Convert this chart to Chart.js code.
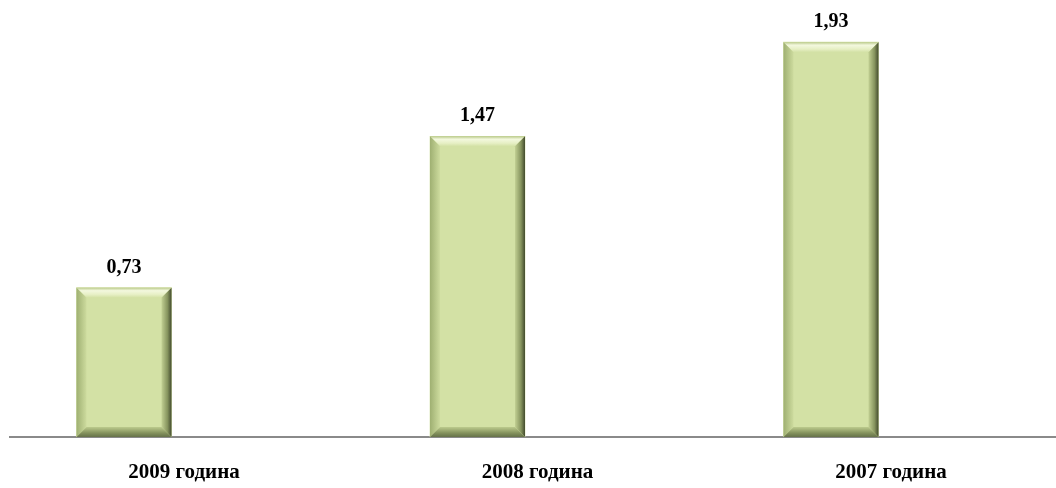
<!DOCTYPE html>
<html>
<head>
<meta charset="utf-8">
<script src="https://cdn.jsdelivr.net/npm/chart.js@4"></script>
<style>
  html, body { margin:0; padding:0; background:#fff; }
  #wrap { width:1056px; height:488px; }
</style>
</head>
<body>
<div id="wrap"><canvas id="chart" width="1056" height="488"></canvas></div>
<script>
  /* ===== data ===== */
  const CATEGORIES = ["2009 година", "2008 година", "2007 година"];
  const VALUES = [0.73, 1.47, 1.93];
  const VALUE_LABELS = ["0,73", "1,47", "1,93"];

  /* ===== bevel look of the bars ===== */
  const bevel = {
    id: "bevel",
    afterDatasetsDraw(chart){
      const ctx = chart.ctx;
      chart.getDatasetMeta(0).data.forEach((bar, i) => {
        const l = bar.x - bar.width/2, r = bar.x + bar.width/2;
        const t = bar.y, b = bar.base;
        const w = 10;
        ctx.save();
        // top
        let g = ctx.createLinearGradient(0, t, 0, t+w);
        g.addColorStop(0, "#b9c98a"); g.addColorStop(0.3, "#f3f8de"); g.addColorStop(0.7, "#e6efc4"); g.addColorStop(1, "#d3e1a5");
        ctx.fillStyle = g;
        ctx.beginPath(); ctx.moveTo(l,t); ctx.lineTo(r,t); ctx.lineTo(r-w,t+w); ctx.lineTo(l+w,t+w); ctx.closePath(); ctx.fill();
        // left
        g = ctx.createLinearGradient(l, 0, l+w, 0);
        g.addColorStop(0, "#9fb072"); g.addColorStop(1, "#cddb9e");
        ctx.fillStyle = g;
        ctx.beginPath(); ctx.moveTo(l,t); ctx.lineTo(l+w,t+w); ctx.lineTo(l+w,b-w); ctx.lineTo(l,b); ctx.closePath(); ctx.fill();
        // right
        g = ctx.createLinearGradient(r-w, 0, r, 0);
        g.addColorStop(0, "#c2d093"); g.addColorStop(0.6, "#86945e"); g.addColorStop(1, "#434b2e");
        ctx.fillStyle = g;
        ctx.beginPath(); ctx.moveTo(r,t); ctx.lineTo(r,b); ctx.lineTo(r-w,b-w); ctx.lineTo(r-w,t+w); ctx.closePath(); ctx.fill();
        // bottom
        g = ctx.createLinearGradient(0, b-w, 0, b);
        g.addColorStop(0, "#bccb8d"); g.addColorStop(0.6, "#84925d"); g.addColorStop(1, "#66724a");
        ctx.fillStyle = g;
        ctx.beginPath(); ctx.moveTo(l,b); ctx.lineTo(l+w,b-w); ctx.lineTo(r-w,b-w); ctx.lineTo(r,b); ctx.closePath(); ctx.fill();
        // values
        ctx.fillStyle = "#000";
        ctx.font = "bold 20px 'Liberation Serif', 'Times New Roman', serif";
        ctx.textAlign = "center";
        ctx.textBaseline = "alphabetic";
        ctx.fillText(VALUE_LABELS[i], bar.x, t - 15);
        ctx.restore();
      });
    }
  };

  new Chart(document.getElementById("chart"), {
    type: "bar",
    data: {
      datasets: [{
        data: VALUES.map((v, i) => ({x: i, y: v})),
        backgroundColor: "#d3e1a5",
        borderWidth: 0,
        barThickness: 95
      }]
    },
    options: {
      responsive: false,
      animation: false,
      layout: { padding: { left: 10, right: 0, top: 0, bottom: 0 } },
      plugins: { legend: { display: false }, tooltip: { enabled: false } },
      scales: {
        x: {
          type: "linear",
          offset: false,
          min: -0.3225,
          max: 2.6365,
          grid: { display: false, drawTicks: false },
          border: { display: true, color: "#8a8a8a", width: 2 },
          afterBuildTicks: s => { s.ticks = CATEGORIES.map((_, i) => ({value: i})); },
          afterFit: s => { s.height = 51; },
          ticks: {
            padding: 23,
            labelOffset: 60,
            maxRotation: 0,
            autoSkip: false,
            color: "#000",
            font: { family: "'Liberation Serif', 'Times New Roman', serif", size: 21, weight: "bold" },
            callback: v => CATEGORIES[v]
          }
        },
        y: { display: false, min: 0, max: 2.136 }
      }
    },
    plugins: [bevel]
  });
</script>
</body>
</html>
